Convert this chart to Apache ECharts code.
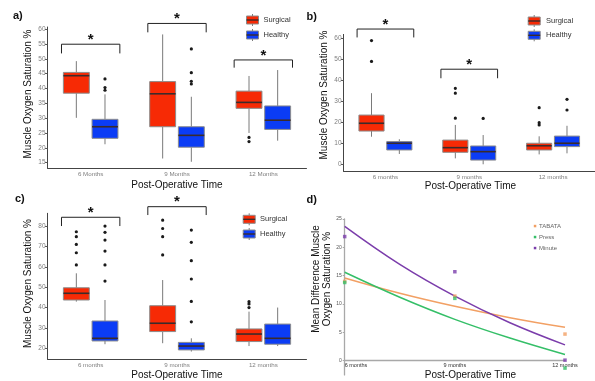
<!DOCTYPE html>
<html><head><meta charset="utf-8">
<script src="https://cdn.jsdelivr.net/npm/echarts@6/dist/echarts.min.js"></script>
<style>html,body{margin:0;padding:0;background:#fff}#c{width:595px;height:381px}</style>
</head><body><div id="c"></div>
<script>
// ---------- DATA ----------
const catsA = ['6 Months', '9 Months', '12 Months'];
const catsBC = ['6 months', '9 months', '12 months'];
// box stats per category: [lower whisker, Q1, median, Q3, upper whisker]
const surgA = [[30.1, 38.4, 44.3, 45.4, 49.2], [16.4, 27.1, 38.2, 42.3, 58.2], [25.0, 33.3, 35.3, 39.1, 44.2]];
const healA = [[21.2, 23.2, 27.1, 29.6, 38.0], [15.3, 20.2, 24.2, 27.1, 37.2], [22.4, 26.2, 29.3, 34.1, 46.2]];
const outSurgA = [[], [], [23.5, 22.1]];
const outHealA = [[43.2, 40.3, 39.4], [53.3, 45.3, 42.4, 41.5], []];
const sigA = [[0, 51.8, 54.9], [1, 58.9, 61.9], [2, 47.0, 49.6]]; // [category, bracket foot, bracket top]
const yTicksA = [15, 20, 25, 30, 35, 40, 45, 50, 55, 60];

const surgB = [[13.3, 16.0, 19.7, 23.6, 34.0], [3.0, 5.9, 8.1, 11.7, 18.9], [4.9, 7.0, 9.0, 10.2, 13.5]];
const healB = [[5.1, 7.0, 10.2, 11.0, 12.1], [0.2, 2.2, 6.2, 8.9, 14.1], [5.4, 8.6, 10.2, 13.6, 18.5]];
const outSurgB = [[59, 49.1], [36.3, 34, 22.1], [27.1, 20, 18.9]];
const outHealB = [[], [22], [31.1, 26]];
const sigB = [[0, 60.5, 64.5], [1, 41.1, 45.4]];
const yTicksB = [0, 10, 20, 30, 40, 50, 60];

const surgC = [[42.9, 43.7, 47.0, 49.7, 56.8], [22.5, 28.2, 32.3, 40.9, 53.5], [21.1, 23.3, 27.0, 29.5, 38.0]];
const healC = [[22.0, 23.6, 24.9, 33.4, 43.7], [18.4, 19.2, 21.1, 22.9, 24.9], [21.1, 22.0, 24.9, 31.9, 40.0]];
const outSurgC = [[77.2, 74.8, 71.0, 66.9, 60.9], [82.9, 78.8, 74.8, 65.8], [42.9, 41.8, 40.0]];
const outHealC = [[80, 76.9, 73.1, 67.7, 60.9, 53], [78, 72, 63, 54, 43, 33], []];
const sigC = [[0, 80.0, 84.3], [1, 85.4, 89.5]];
const yTicksC = [20, 30, 40, 50, 60, 70, 80];

// panel d
const monthsD = [6, 9, 12];
const tabataPts = [14.0, 11.4, 4.7];
const pressPts = [13.8, 11.0, -1.3];
const minutePts = [21.9, 15.7, 0.1];
const trendX = [6, 7.5, 9, 10.5, 12];
const tabataTrend = [14.6, 11.9, 9.6, 7.6, 5.9];
const pressTrend = [15.6, 11.2, 7.3, 4.0, 1.1];
const minuteTrend = [23.7, 17.0, 11.4, 6.7, 2.8];
const yTicksD = [0, 5, 10, 15, 20, 25];
const xTicksD = [6, 9, 12];

// ---------- STYLE ----------
const RED = '#F72A05', BLUE = '#0B3CF5';
const ORANGE = '#F2A064', GREEN = '#35BF68', PURPLE = '#7B3DAB';
const FONT = 'Liberation Sans, Arial, sans-serif';
const OFF = 0.166, BOXW = 0.30, BRK = 0.338;

const chart = echarts.init(document.getElementById('c'), null, {renderer: 'canvas'});

function boxSeries(g, data, off, color) {
  return {
    type: 'custom', xAxisIndex: g, yAxisIndex: g, clip: false, silent: true, z: 3,
    data: data.map((v, i) => [i].concat(v)),
    encode: {x: 0, y: [1, 2, 3, 4, 5]},
    renderItem(params, api) {
      const c = api.value(0);
      const band = api.size([1, 0])[0];
      const cx = api.coord([c, api.value(3)])[0] + off * band;
      const w = band * BOXW;
      const y = k => api.coord([c, api.value(k)])[1];
      const yLo = y(1), yQ1 = y(2), yMed = y(3), yQ3 = y(4), yHi = y(5);
      return {type: 'group', children: [
        {type: 'line', shape: {x1: cx, y1: yHi, x2: cx, y2: yQ3}, style: {stroke: '#7a7a7a', lineWidth: 1}},
        {type: 'line', shape: {x1: cx, y1: yQ1, x2: cx, y2: yLo}, style: {stroke: '#7a7a7a', lineWidth: 1}},
        {type: 'rect', shape: {x: cx - w / 2, y: yQ3, width: w, height: yQ1 - yQ3}, style: {fill: color, stroke: '#8c8c8c', lineWidth: 1}},
        {type: 'line', shape: {x1: cx - w / 2, y1: yMed, x2: cx + w / 2, y2: yMed}, style: {stroke: '#3b2b2b', lineWidth: 1.6}}
      ]};
    }
  };
}
function outSeries(g, outs, off) {
  const data = [];
  outs.forEach((arr, i) => arr.forEach(v => data.push([i, v])));
  return {
    type: 'custom', xAxisIndex: g, yAxisIndex: g, clip: false, silent: true, z: 4,
    data, encode: {x: 0, y: 1},
    renderItem(params, api) {
      const band = api.size([1, 0])[0];
      const p = api.coord([api.value(0), api.value(1)]);
      return {type: 'circle', shape: {cx: p[0] + off * band, cy: p[1], r: 1.6}, style: {fill: '#1a1a1a'}};
    }
  };
}
function sigSeries(g, sig) {
  return {
    type: 'custom', xAxisIndex: g, yAxisIndex: g, clip: false, silent: true, z: 4,
    data: sig, encode: {x: 0, y: [1, 2]},
    renderItem(params, api) {
      const c = api.value(0);
      const band = api.size([1, 0])[0];
      const top = api.coord([c, api.value(2)]);
      const foot = api.coord([c, api.value(1)]);
      const xl = top[0] - BRK * band, xr = top[0] + BRK * band;
      return {type: 'group', children: [
        {type: 'polyline', shape: {points: [[xl, foot[1]], [xl, top[1]], [xr, top[1]], [xr, foot[1]]]}, style: {stroke: '#222', lineWidth: 1, fill: null}},
        {type: 'text', x: top[0], y: top[1] - 4.5, style: {text: '*', font: 'bold 15px ' + FONT, align: 'center', verticalAlign: 'middle', fill: '#111'}}
      ]};
    }
  };
}

function catAxis(g, cats) {
  return {
    type: 'category', gridIndex: g, data: cats, boundaryGap: true,
    axisLine: {onZero: false, lineStyle: {color: '#444', width: 1}},
    axisTick: {alignWithLabel: true, length: 2.5, lineStyle: {color: '#555'}},
    axisLabel: {fontSize: 6.2, color: '#7f7f7f', margin: 3, fontFamily: FONT},
    splitLine: {show: false}
  };
}
function valAxis(g, min, max, ticks) {
  return {
    type: 'value', gridIndex: g, min, max,
    axisLine: {show: true, lineStyle: {color: '#444', width: 1}},
    axisTick: {show: true, length: 2.5, customValues: ticks, lineStyle: {color: '#555'}},
    axisLabel: {fontSize: 6.5, color: '#7f7f7f', margin: 2, customValues: ticks, fontFamily: FONT},
    splitLine: {show: false}
  };
}

function legendKey(x, y, color) {
  return {type: 'group', children: [
    {type: 'line', shape: {x1: x, y1: y - 6, x2: x, y2: y + 6}, style: {stroke: '#7a7a7a', lineWidth: 1}},
    {type: 'rect', shape: {x: x - 6, y: y - 4, width: 12, height: 8}, style: {fill: color, stroke: '#8c8c8c', lineWidth: 1}},
    {type: 'line', shape: {x1: x - 6, y1: y, x2: x + 6, y2: y}, style: {stroke: '#3b2b2b', lineWidth: 1.4}}
  ]};
}
function txt(x, y, s, font, extra) {
  return {type: 'text', x, y, style: Object.assign({text: s, font, fill: '#111', align: 'center', verticalAlign: 'middle'}, extra || {})};
}
const TITLE = '10px ' + FONT;
const graphics = [
  txt(13, 16, 'a)', 'bold 11px ' + FONT, {align: 'left'}),
  txt(306.5, 16.5, 'b)', 'bold 11px ' + FONT, {align: 'left'}),
  txt(15, 199, 'c)', 'bold 11px ' + FONT, {align: 'left'}),
  txt(306.5, 200, 'd)', 'bold 11px ' + FONT, {align: 'left'}),
  Object.assign(txt(28.3, 94, 'Muscle Oxygen Saturation %', TITLE), {rotation: Math.PI / 2}),
  txt(177, 185, 'Post-Operative Time', TITLE),
  Object.assign(txt(324, 95, 'Muscle Oxygen Saturation %', TITLE), {rotation: Math.PI / 2}),
  txt(470.5, 186.5, 'Post-Operative Time', TITLE),
  Object.assign(txt(28, 283.5, 'Muscle Oxygen Saturation %', TITLE), {rotation: Math.PI / 2}),
  txt(177, 375, 'Post-Operative Time', TITLE),
  Object.assign(txt(321.8, 279, 'Mean Difference Muscle\nOxygen Saturation %', TITLE, {lineHeight: 11.5}), {rotation: Math.PI / 2}),
  txt(470.5, 375.5, 'Post-Operative Time', TITLE),
  legendKey(252.5, 20, RED), legendKey(252.5, 35, BLUE),
  txt(263.5, 20, 'Surgical', '7.5px ' + FONT, {align: 'left', fill: '#333'}),
  txt(263.5, 35, 'Healthy', '7.5px ' + FONT, {align: 'left', fill: '#333'}),
  legendKey(534.2, 21, RED), legendKey(534.2, 35.3, BLUE),
  txt(546, 21, 'Surgical', '7.5px ' + FONT, {align: 'left', fill: '#333'}),
  txt(546, 35.3, 'Healthy', '7.5px ' + FONT, {align: 'left', fill: '#333'}),
  legendKey(249.2, 219.3, RED), legendKey(249.2, 234, BLUE),
  txt(260, 219.3, 'Surgical', '7.5px ' + FONT, {align: 'left', fill: '#333'}),
  txt(260, 234, 'Healthy', '7.5px ' + FONT, {align: 'left', fill: '#333'}),
  {type: 'rect', shape: {x: 533.8, y: 224.8, width: 2.5, height: 2.5}, style: {fill: ORANGE}},
  {type: 'rect', shape: {x: 533.8, y: 235.8, width: 2.5, height: 2.5}, style: {fill: GREEN}},
  {type: 'rect', shape: {x: 533.8, y: 246.8, width: 2.5, height: 2.5}, style: {fill: PURPLE}},
  txt(539, 226, 'TABATA', '6px ' + FONT, {align: 'left', fill: '#666'}),
  txt(539, 237, 'Press', '6px ' + FONT, {align: 'left', fill: '#666'}),
  txt(539, 248, 'Minute', '6px ' + FONT, {align: 'left', fill: '#666'})
];

const option = {
  animation: false,
  backgroundColor: '#fff',
  grid: [
    {left: 47.5, top: 27, width: 259, height: 141, outerBoundsMode: 'none'},
    {left: 343.5, top: 34.4, width: 251.5, height: 136.5, outerBoundsMode: 'none'},
    {left: 47.5, top: 213.3, width: 259, height: 145.7, outerBoundsMode: 'none'},
    {left: 344.7, top: 219, width: 220.3, height: 155.9, outerBoundsMode: 'none'}
  ],
  xAxis: [
    catAxis(0, catsA), catAxis(1, catsBC), catAxis(2, catsBC),
    {
      type: 'value', gridIndex: 3, min: 6, max: 12, offset: -14.2,
      axisLine: {onZero: false, lineStyle: {color: '#a8a8a8', width: 1.3}},
      axisTick: {show: false},
      axisLabel: {fontSize: 5.5, color: '#333', margin: 1.5, customValues: xTicksD, alignMinLabel: 'left', formatter: v => v + ' months', fontFamily: FONT},
      splitLine: {show: false}
    }
  ],
  yAxis: [
    valAxis(0, 13.2, 60.7, yTicksA), valAxis(1, -2.95, 61.95, yTicksB), valAxis(2, 14.75, 86.25, yTicksC),
    {
      type: 'value', gridIndex: 3, min: -2.5, max: 25,
      axisLine: {show: true, lineStyle: {color: '#a8a8a8', width: 1.3}},
      axisTick: {show: true, length: 2, customValues: yTicksD, lineStyle: {color: '#a8a8a8'}},
      axisLabel: {fontSize: 5, color: '#555', margin: 3, customValues: yTicksD, fontFamily: FONT},
      splitLine: {show: false}
    }
  ],
  graphic: graphics,
  series: [
    boxSeries(0, surgA, -OFF, RED), boxSeries(0, healA, OFF, BLUE),
    outSeries(0, outSurgA, -OFF), outSeries(0, outHealA, OFF), sigSeries(0, sigA),
    boxSeries(1, surgB, -OFF, RED), boxSeries(1, healB, OFF, BLUE),
    outSeries(1, outSurgB, -OFF), outSeries(1, outHealB, OFF), sigSeries(1, sigB),
    boxSeries(2, surgC, -OFF, RED), boxSeries(2, healC, OFF, BLUE),
    outSeries(2, outSurgC, -OFF), outSeries(2, outHealC, OFF), sigSeries(2, sigC),
    {type: 'line', xAxisIndex: 3, yAxisIndex: 3, data: trendX.map((x, i) => [x, tabataTrend[i]]), smooth: 0.4, showSymbol: false, lineStyle: {color: ORANGE, width: 1.5}, z: 2, silent: true},
    {type: 'line', xAxisIndex: 3, yAxisIndex: 3, data: trendX.map((x, i) => [x, pressTrend[i]]), smooth: 0.4, showSymbol: false, lineStyle: {color: GREEN, width: 1.5}, z: 2, silent: true},
    {type: 'line', xAxisIndex: 3, yAxisIndex: 3, data: trendX.map((x, i) => [x, minuteTrend[i]]), smooth: 0.4, showSymbol: false, lineStyle: {color: PURPLE, width: 1.5}, z: 2, silent: true},
    {type: 'scatter', xAxisIndex: 3, yAxisIndex: 3, data: monthsD.map((x, i) => [x, tabataPts[i]]), symbol: 'rect', symbolSize: 3.5, itemStyle: {color: ORANGE}, clip: false, z: 3, silent: true},
    {type: 'scatter', xAxisIndex: 3, yAxisIndex: 3, data: monthsD.map((x, i) => [x, pressPts[i]]), symbol: 'rect', symbolSize: 3.5, itemStyle: {color: GREEN}, clip: false, z: 3, silent: true},
    {type: 'scatter', xAxisIndex: 3, yAxisIndex: 3, data: monthsD.map((x, i) => [x, minutePts[i]]), symbol: 'rect', symbolSize: 3.5, itemStyle: {color: PURPLE}, clip: false, z: 3, silent: true}
  ]
};
chart.setOption(option);
</script>
</body></html>
